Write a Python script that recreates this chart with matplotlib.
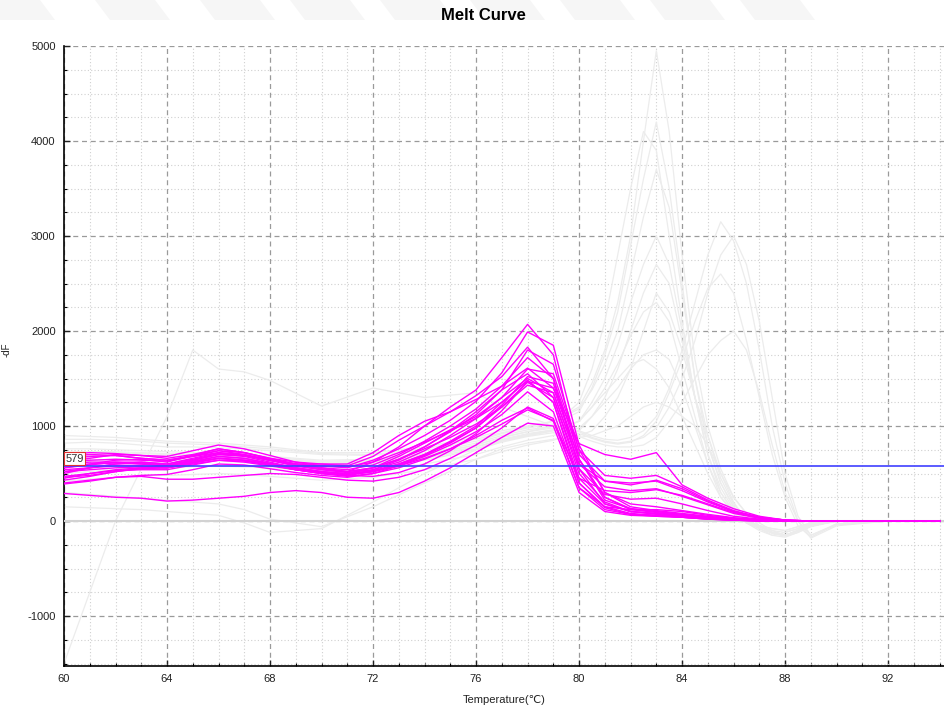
#Melt curve plot: magenta = selected wells, light gray = the other wells
#
#Run as:
#
#python plot.py

import numpy as np
import matplotlib as mpl
mpl.use('Agg')
import matplotlib.pyplot as plt
from matplotlib.patches import Polygon

#Temperatures of the selected (magenta) traces
temps = [60, 61, 62, 63, 64, 65, 66, 67, 68, 69, 70, 71, 72, 73, 74, 75, 76, 77,
         78, 79, 80, 81, 82, 83, 84, 85, 86, 87, 88, 89, 90, 91, 92, 93, 94]

#-dF of the selected traces
sel_01 = [560, 600, 640, 650, 620, 690, 760, 720, 650, 600, 560, 520, 620, 780, 1000, 1200, 1380, 1720, 2070, 1750, 650, 220, 130, 100, 70, 40, 15, 5, 0, 0, 0, 0, 0, 0, 0]
sel_02 = [620, 660, 700, 690, 680, 740, 800, 760, 690, 620, 580, 560, 640, 760, 900, 1060, 1260, 1560, 1990, 1850, 800, 300, 180, 150, 110, 70, 35, 15, 5, 0, 0, 0, 0, 0, 0]
sel_03 = [700, 720, 710, 690, 660, 700, 760, 720, 660, 620, 600, 580, 680, 850, 1000, 1150, 1320, 1520, 1830, 1500, 550, 180, 100, 80, 60, 40, 20, 5, 0, 0, 0, 0, 0, 0, 0]
sel_04 = [500, 560, 600, 620, 600, 660, 720, 700, 640, 580, 540, 520, 560, 650, 780, 940, 1120, 1380, 1800, 1650, 750, 480, 450, 480, 360, 220, 110, 40, 10, 0, 0, 0, 0, 0, 0]
sel_05 = [650, 680, 690, 660, 640, 690, 740, 700, 640, 600, 600, 600, 720, 900, 1050, 1150, 1280, 1420, 1610, 1400, 815, 700, 650, 720, 380, 240, 130, 50, 10, 0, 0, 0, 0, 0, 0]
sel_06 = [450, 500, 540, 560, 560, 620, 680, 660, 600, 540, 500, 480, 540, 640, 780, 950, 1150, 1380, 1550, 1300, 500, 200, 100, 80, 50, 30, 15, 5, 0, 0, 0, 0, 0, 0, 0]
sel_07 = [600, 620, 620, 600, 580, 640, 700, 680, 620, 560, 520, 500, 560, 680, 820, 960, 1100, 1300, 1500, 1350, 600, 420, 400, 420, 320, 200, 100, 40, 10, 0, 0, 0, 0, 0, 0]
sel_08 = [520, 540, 560, 570, 560, 610, 660, 640, 590, 540, 500, 480, 520, 600, 700, 840, 1000, 1250, 1480, 1250, 400, 150, 80, 60, 40, 20, 10, 0, 0, 0, 0, 0, 0, 0, 0]
sel_09 = [580, 600, 610, 600, 580, 630, 680, 660, 610, 560, 520, 500, 530, 600, 700, 830, 980, 1200, 1460, 1300, 550, 280, 230, 240, 180, 110, 50, 20, 5, 0, 0, 0, 0, 0, 0]
sel_10 = [470, 500, 530, 540, 540, 590, 640, 630, 590, 540, 500, 470, 500, 580, 680, 800, 940, 1120, 1360, 1150, 400, 140, 70, 50, 40, 20, 10, 0, 0, 0, 0, 0, 0, 0, 0]
sel_11 = [400, 430, 460, 480, 490, 540, 600, 590, 550, 510, 480, 460, 500, 560, 650, 760, 900, 1060, 1190, 1050, 350, 150, 120, 120, 100, 60, 30, 10, 0, 0, 0, 0, 0, 0, 0]
sel_12 = [540, 560, 580, 580, 560, 600, 640, 620, 580, 540, 510, 490, 520, 580, 660, 760, 880, 1020, 1170, 1060, 450, 320, 300, 330, 270, 180, 90, 30, 5, 0, 0, 0, 0, 0, 0]
sel_13 = [290, 270, 250, 240, 210, 220, 240, 260, 300, 320, 300, 250, 240, 300, 420, 560, 720, 880, 1030, 1000, 300, 100, 60, 50, 40, 25, 10, 5, 0, 0, 0, 0, 0, 0, 0]
sel_14 = [390, 420, 460, 470, 440, 440, 460, 480, 500, 490, 460, 430, 420, 460, 540, 660, 800, 980, 1200, 1080, 350, 120, 70, 60, 40, 20, 10, 5, 0, 0, 0, 0, 0, 0, 0]
sel_15 = [460, 480, 520, 560, 580, 620, 660, 640, 600, 560, 520, 480, 470, 510, 600, 740, 920, 1160, 1470, 1400, 650, 250, 120, 90, 60, 40, 20, 5, 0, 0, 0, 0, 0, 0, 0]
sel_16 = [620, 640, 650, 640, 630, 680, 740, 720, 660, 600, 560, 540, 590, 700, 840, 1000, 1180, 1420, 1720, 1500, 700, 420, 380, 430, 340, 210, 100, 40, 10, 0, 0, 0, 0, 0, 0]
sel_17 = [680, 700, 690, 660, 640, 680, 720, 690, 640, 600, 580, 570, 620, 720, 830, 950, 1080, 1250, 1480, 1250, 450, 180, 100, 70, 50, 25, 10, 0, 0, 0, 0, 0, 0, 0, 0]
sel_18 = [520, 560, 600, 610, 590, 640, 700, 690, 640, 580, 540, 510, 540, 620, 740, 900, 1080, 1300, 1600, 1550, 750, 300, 150, 110, 80, 50, 25, 10, 0, 0, 0, 0, 0, 0, 0]
sel_19 = [560, 590, 620, 620, 600, 650, 710, 690, 640, 590, 550, 520, 560, 650, 760, 880, 1020, 1200, 1430, 1350, 600, 360, 320, 340, 260, 170, 80, 30, 5, 0, 0, 0, 0, 0, 0]
sel_20 = [430, 470, 520, 550, 560, 610, 660, 640, 600, 550, 510, 490, 520, 590, 690, 820, 980, 1220, 1520, 1450, 650, 250, 130, 100, 70, 45, 20, 5, 0, 0, 0, 0, 0, 0, 0]

#Temperatures of the other (gray) traces
temps_gray = [60, 61, 62, 63, 64, 65, 66, 67, 68, 70, 72, 74, 76, 77, 78, 79, 80,
              80.5, 81, 81.5, 82, 82.5, 83, 83.5, 84, 84.5, 85, 85.5, 86, 86.5,
              87, 87.5, 88, 88.5, 89, 90, 92, 94]

oth_01 = [900, 890, 880, 860, 840, 830, 820, 800, 780, 720, 720, 780, 880, 950, 1000, 1050, 1200, 1450, 1800, 2300, 3000, 4000, 4950, 4100, 2800, 1700, 1000, 550, 250, 80, -50, -120, -150, -100, -50, 0, 0, 0]
oth_02 = [820, 830, 820, 800, 780, 780, 770, 760, 740, 700, 690, 740, 840, 920, 980, 1020, 1150, 1400, 1750, 2200, 2900, 3600, 4200, 3500, 2500, 1500, 800, 400, 150, 0, -80, -150, -170, -120, -60, 0, 0, 0]
oth_03 = [700, 720, 720, 710, 700, 700, 700, 690, 670, 630, 640, 700, 800, 880, 940, 1000, 1250, 1600, 2100, 2800, 3500, 4100, 3900, 3000, 2100, 1300, 700, 350, 120, -20, -100, -150, -120, -80, -30, 0, 0, 0]
oth_04 = [860, 860, 850, 840, 820, 810, 800, 780, 760, 710, 700, 760, 860, 930, 990, 1050, 1180, 1380, 1650, 2000, 2600, 3200, 3700, 3300, 2400, 1500, 900, 450, 180, 30, -60, -120, -150, -100, -50, 0, 0, 0]
oth_05 = [600, 630, 650, 660, 650, 650, 660, 650, 630, 590, 600, 660, 760, 840, 900, 950, 1050, 1250, 1500, 1850, 2300, 2700, 3000, 2700, 2000, 1300, 700, 300, 100, -20, -80, -130, -160, -120, -50, 0, 0, 0]
oth_06 = [650, 670, 690, 690, 680, 680, 690, 680, 660, 610, 620, 680, 780, 850, 910, 960, 1050, 1200, 1400, 1650, 1950, 2200, 2300, 2100, 1600, 1100, 600, 250, 80, -20, -60, -100, -120, -80, -30, 0, 0, 0]
oth_07 = [500, 520, 540, 560, 560, 570, 580, 570, 560, 520, 540, 600, 700, 780, 850, 900, 980, 1100, 1250, 1400, 1600, 1750, 1800, 1700, 1400, 1000, 600, 300, 100, 0, -50, -80, -100, -60, -20, 0, 0, 0]
oth_08 = [420, 440, 460, 480, 480, 490, 500, 490, 470, 430, 460, 540, 650, 730, 800, 850, 950, 1100, 1300, 1600, 2000, 2400, 2700, 2500, 1900, 1300, 800, 400, 150, 0, -60, -120, -150, -100, -40, 0, 0, 0]
oth_09 = [760, 760, 750, 740, 730, 720, 710, 700, 680, 640, 650, 710, 820, 900, 960, 1000, 950, 900, 860, 850, 880, 950, 1100, 1400, 1800, 2300, 2800, 3150, 2950, 2500, 1800, 1000, 400, 0, -180, -50, 0, 0]
oth_10 = [720, 730, 730, 720, 710, 700, 690, 680, 660, 620, 630, 690, 800, 880, 940, 980, 940, 880, 840, 820, 840, 880, 980, 1200, 1500, 1900, 2400, 2800, 3000, 2700, 2100, 1300, 500, 50, -150, -40, 0, 0]
oth_11 = [680, 690, 700, 690, 680, 680, 670, 660, 640, 600, 610, 670, 780, 860, 920, 960, 920, 870, 830, 810, 830, 900, 1050, 1350, 1700, 2100, 2450, 2600, 2400, 1900, 1300, 700, 250, -50, -170, -30, 0, 0]
oth_12 = [620, 640, 650, 650, 640, 640, 630, 620, 600, 560, 580, 640, 750, 830, 890, 930, 890, 840, 800, 780, 780, 800, 880, 1050, 1250, 1500, 1750, 1900, 2000, 1800, 1350, 800, 300, 0, -150, -30, 0, 0]
oth_13 = [-1500, -750, 0, 550, 1100, 1800, 1600, 1570, 1480, 1210, 1400, 1300, 1350, 1200, 1100, 1000, 900, 950, 1100, 1300, 1600, 2000, 2400, 2200, 1800, 1300, 900, 500, 250, 80, -20, -100, -150, -100, -50, 0, 0, 0]
oth_14 = [150, 140, 130, 120, 100, 80, 60, -20, -120, -80, 200, 500, 750, 850, 900, 950, 1050, 1200, 1350, 1500, 1650, 1700, 1600, 1400, 1100, 800, 500, 250, 100, 0, -50, -80, -100, -60, -20, 0, 0, 0]
oth_15 = [300, 280, 260, 240, 220, 200, 180, 120, 20, -60, 150, 400, 650, 760, 820, 860, 880, 900, 950, 1000, 1100, 1200, 1250, 1200, 1100, 1000, 800, 500, 200, 0, -60, -120, -150, -100, -40, 0, 0, 0]

selected = [sel_01, sel_02, sel_03, sel_04, sel_05, sel_06, sel_07, sel_08, sel_09, sel_10,
            sel_11, sel_12, sel_13, sel_14, sel_15, sel_16, sel_17, sel_18, sel_19, sel_20]
others = [oth_01, oth_02, oth_03, oth_04, oth_05, oth_06, oth_07, oth_08,
          oth_09, oth_10, oth_11, oth_12, oth_13, oth_14, oth_15]

threshold = 579

plt.rcParams['font.family'] = ['Liberation Sans', 'DejaVu Sans']
plt.rcParams['axes.unicode_minus'] = False

fig = plt.figure(figsize=(9.45, 7.08), dpi=100)

#faint watermark bands above the plot
for x0 in [-20, 95, 200, 290, 380, 470, 560, 650, 740]:
    band = Polygon([[x0, 708], [x0 + 60, 708], [x0 + 75, 688], [x0 + 15, 688]],
                   closed=True, transform=None, facecolor='#f6f6f6', edgecolor='none')
    fig.patches.append(band)

ax = fig.add_axes([64/945, 42/708, 880/945, 620/708])

for y in others:
    ax.plot(temps_gray, y, color='#ececec', lw=0.9, zorder=2)

ax.axhline(0, color='#d2d2d2', lw=1.5, zorder=3)

for y in selected:
    ax.plot(temps, y, color='#ff00ff', lw=1.0, zorder=4)

ax.axhline(threshold, color='#4040ff', lw=1.2, zorder=5)
ax.text(60.05, threshold + 25, str(threshold), fontsize=8, color='#333333', ha='left', va='bottom',
        zorder=6, bbox=dict(boxstyle='square,pad=0.15', facecolor='white', edgecolor='#e03030', lw=0.8))

ax.set_xlim(60, 94.17)
ax.set_ylim(-1526, 5000)
ax.set_xticks(np.arange(60, 93, 4))
ax.set_xticks(np.arange(60, 95, 1), minor=True)
ax.set_yticks(np.arange(-1000, 5001, 1000))
ax.set_yticks(np.arange(-1500, 5001, 250), minor=True)

ax.grid(which='major', color='#9a9a9a', linestyle=(0, (4, 3)), lw=0.9, zorder=0)
ax.grid(which='minor', color='#d0d0d0', linestyle=(0, (1, 2)), lw=0.8, zorder=0)
ax.set_axisbelow(True)

for side in ['top', 'right']:
    ax.spines[side].set_visible(False)
ax.spines['left'].set_linewidth(1.2)
ax.spines['bottom'].set_linewidth(1.2)

ax.tick_params(which='major', direction='in', length=4, width=1, labelsize=8, colors='#222222', pad=6)
ax.tick_params(which='minor', direction='in', length=2.5, width=0.8)

ax.set_xlabel("Temperature(℃)", fontsize=8, color='#222222', labelpad=8)
ax.set_ylabel("-dF", fontsize=7, color='#222222')
ax.yaxis.set_label_coords(-52/880, 0.51)

fig.text(483/945, 1 - 15/708, "Melt Curve", ha='center', va='center', fontsize=12, fontweight='bold')

plt.savefig("out.png", format="png", dpi=100)
